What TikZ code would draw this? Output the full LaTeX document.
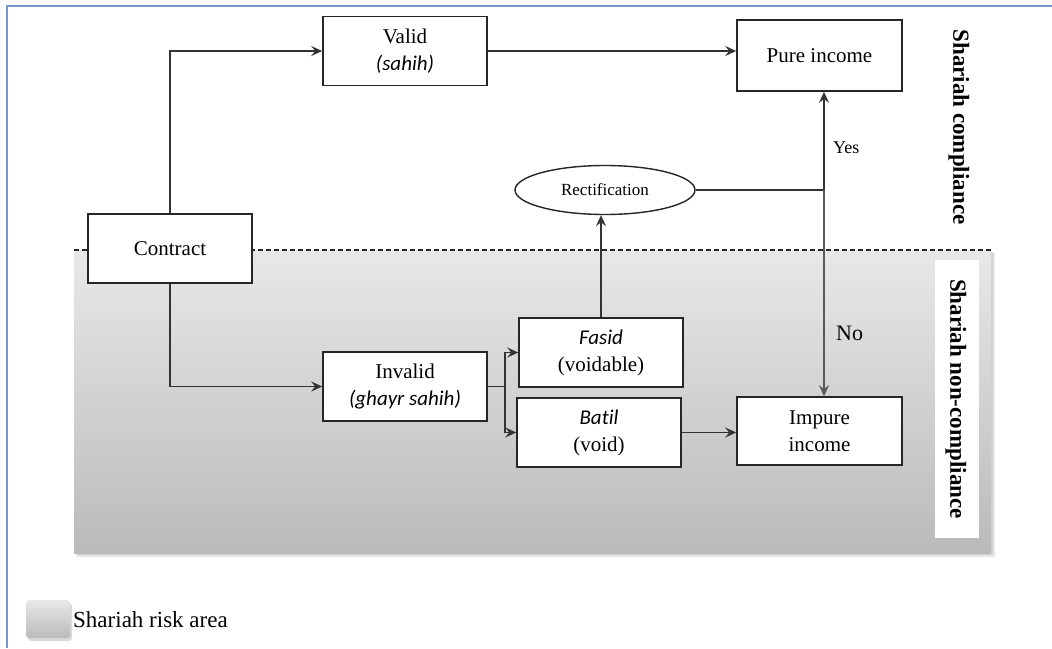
\documentclass[tikz,border=0pt]{standalone}
\usepackage{fontspec}
\setmainfont{Liberation Serif}
\newfontfamily\carl[Ligatures=NoCommon]{Carlito}
\usetikzlibrary{arrows.meta,shapes.geometric,calc}
\definecolor{framecol}{RGB}{120,148,205}
\begin{document}
\begin{tikzpicture}[x=1pt,y=-1pt,
  box/.style={draw=black!85, line width=1.6pt, fill=white, minimum width=164pt, minimum height=69pt, inner sep=0pt, align=center, font=\fontsize{21}{27}\selectfont},
  conn/.style={draw=black!80, line width=1.5pt},
  arr/.style={conn, -{Stealth[length=11pt,width=10pt,inset=4pt]}},
  lbl/.style={font=\fontsize{18}{22}\selectfont, inner sep=0pt},
  side/.style={font=\bfseries\fontsize{23}{26}\selectfont, rotate=-90, inner sep=0pt}]
\useasboundingbox (0,0) rectangle (1052,648);
% outer frame
\draw[framecol, line width=1.4pt] (1052,6) -- (7,6) -- (7,648);
% risk area with shadow
\fill[black!10] (77,253) rectangle (995,557);
\fill[black!18] (76,252) rectangle (993,555);
\shade[top color=black!9, bottom color=black!27] (74,250) rectangle (991,553);
\fill[white] (935,260) rectangle (979,538);
\draw[black!85, line width=1.1pt, dash pattern=on 5pt off 3pt] (74,250) -- (991,250);
% side labels
\node[side] (sc) at (959,127) {Shariah compliance};
\node[side] (snc) at (956,399) {Shariah non-compliance};
% nodes
\node[box] (contract) at (170,248.5) {Contract};
\node[box] (valid) at (405,51) {Valid\\{\carl\itshape (sahih)}};
\node[box, minimum width=165pt, minimum height=71pt] (pure) at (819.5,55.5) {Pure income};
\node[draw=black!85, line width=1.4pt, fill=white, ellipse, minimum width=180pt, minimum height=49pt, inner sep=0pt, font=\fontsize{17}{20}\selectfont] (rect) at (605,190) {Rectification};
\node[box] (invalid) at (405,386.5) {Invalid\\{\carl\itshape (ghayr sahih)}};
\node[box] (fasid) at (601,352.5) {{\carl\itshape Fasid}\\(voidable)};
\node[box] (batil) at (599,432.5) {{\carl\itshape Batil}\\(void)};
\node[box, minimum width=165pt, minimum height=68pt] (impure) at (819.5,431) {Impure\\income};
% connectors
\draw[arr] (contract.north) |- (valid.west);
\draw[arr] (contract.south) |- (invalid.west);
\draw[arr] (valid.east) -- (pure.west |- valid.east);
\draw[conn] (invalid.east) -- ++(17,0) coordinate (split);
\draw[arr] (split) |- (fasid.west);
\draw[arr] (split) |- (batil.west);
\draw[arr] (fasid.north) -- (fasid.north |- rect.south);
\draw[arr] (batil.east) -- (impure.west |- batil.east);
\coordinate (j) at (824,190);
\draw[conn] (rect.east) -- (j);
\draw[arr] (j) -- (j |- pure.south);
\draw[arr, draw=black!65] (j) -- (j |- impure.north);
\node[lbl, anchor=west] (yes) at (833,148) {Yes};
\node[lbl, anchor=west, font=\fontsize{22}{24}\selectfont] (no) at (836,333) {No};
% legend
\fill[black!15, rounded corners=3pt] (28,603) rectangle (72,641);
\shade[rounded corners=3pt, top color=black!9, bottom color=black!27] (26,600) rectangle (70,638);
\node[anchor=west, inner sep=0pt, font=\fontsize{23}{26}\selectfont] (legend) at (73,620) {Shariah risk area};
\end{tikzpicture}
\end{document}
